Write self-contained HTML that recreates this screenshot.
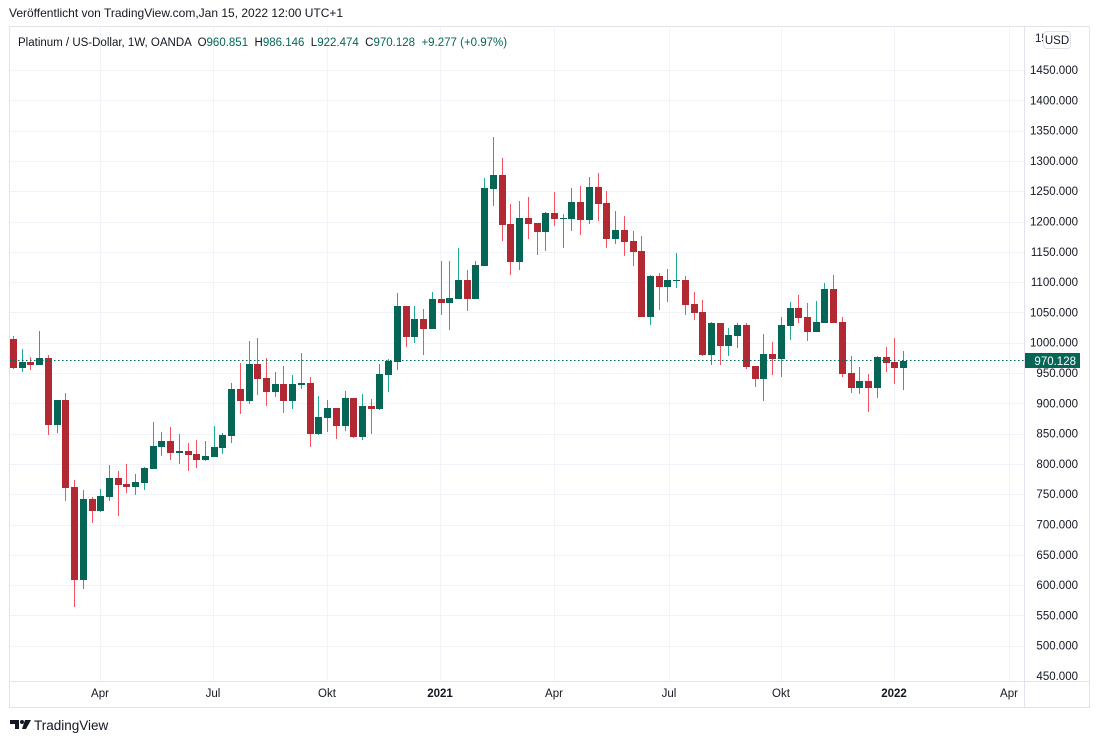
<!DOCTYPE html>
<html><head><meta charset="utf-8"><style>
body{margin:0;background:#fff;width:1100px;height:743px;overflow:hidden;font-family:"Liberation Sans",sans-serif}
svg{position:absolute;left:0;top:0}
text{white-space:pre}
</style></head><body>
<svg id="s" width="1100" height="743" xmlns="http://www.w3.org/2000/svg" font-family="Liberation Sans, sans-serif">
<rect x="9.5" y="26.5" width="1080" height="681" fill="#fff" stroke="#e0e3eb"/>
<g id="grid" stroke="#f0f3fa" stroke-width="1"></g>
<line x1="1024.5" y1="27" x2="1024.5" y2="707" stroke="#e0e3eb"/>
<line x1="10" y1="681.5" x2="1089" y2="681.5" stroke="#e0e3eb"/>
<g id="c"></g>
<line x1="10" y1="360.5" x2="1024" y2="360.5" stroke="#056656" stroke-dasharray="1.5,2.5"/>
<g id="ax" font-size="11.5" fill="#131722"></g>
<rect x="1025" y="353" width="55" height="15" fill="#056656"/>
<text x="1076" y="365" font-size="11.5" fill="#fff" text-anchor="end">970.128</text>
<rect x="1043.5" y="31.5" width="27" height="17" rx="3" fill="#fff" stroke="#e0e3eb"/>
<text x="1057" y="44" font-size="11.5" fill="#131722" text-anchor="middle">USD</text>
<text x="9" y="17" font-size="12" fill="#131722">Veröffentlicht von TradingView.com,Jan 15, 2022 12:00 UTC+1</text>
<text x="18" y="46" font-size="11.5" fill="#131722" xml:space="preserve">Platinum / US-Dollar, 1W, OANDA  O<tspan fill="#056656">960.851</tspan>  H<tspan fill="#056656">986.146</tspan>  L<tspan fill="#056656">922.474</tspan>  C<tspan fill="#056656">970.128</tspan>  <tspan fill="#056656">+9.277 (+0.97%)</tspan></text>
<g transform="translate(10,718)" fill="#131722"><path d="M0 2h9v9h-4v-5h-5z"/><circle cx="12" cy="4" r="2"/><path d="M15 2h6l-5 9h-4z"/></g>
<text x="34" y="730" font-size="13.5" fill="#131722">TradingView</text>
</svg>
<script>
var NS="http://www.w3.org/2000/svg";
function el(p,t,a,txt){var e=document.createElementNS(NS,t);for(var k in a)e.setAttribute(k,a[k]);if(txt)e.textContent=txt;p.appendChild(e);return e;}
var g=document.getElementById('grid'),ax=document.getElementById('ax'),c=document.getElementById('c');
for(var p=1500;p>=450;p-=50){var y=70+(1450-p)*0.606;if(p<1500&&p>450)el(g,'line',{x1:10,x2:1024,y1:Math.round(y)+.5,y2:Math.round(y)+.5});
 if(p<1500) el(ax,'text',{x:1078,y:y+4,'text-anchor':'end'},p.toFixed(3));}
el(ax,'text',{x:1035,y:42},'15');
var xs=[[100,'Apr'],[213,'Jul'],[327,'Okt'],[440,'2021',1],[554,'Apr'],[669,'Jul'],[781,'Okt'],[894,'2022',1],[1009,'Apr']];
xs.forEach(function(a){if(a[0]<1024)el(g,'line',{x1:a[0]+.5,x2:a[0]+.5,y1:27,y2:681});var t=el(ax,'text',{x:a[0],y:697,'text-anchor':'middle'},a[1]);if(a[2])t.setAttribute('font-weight','bold');});
var D=[[339,368,336,369,'r'],[362,368,349,372,'g'],[362,365,357,370,'r'],[358,365,331,365,'g'],[358,425,355,435,'r'],[400,425,400,433,'g'],[400,488,393,501,'r'],[487,580,480,607,'r'],[499,580,490,589,'g'],[499,511,497,523,'r'],[496,511,489,512,'g'],[478,497,465,501,'g'],[478,485,471,516,'r'],[484,487,464,493,'r'],[482,487,474,495,'g'],[468,483,467,490,'g'],[446,469,422,469,'g'],[441,447,432,456,'g'],[441,453,427,460,'r'],[451,453,434,464,'g'],[451,455,443,471,'r'],[454,460,440,468,'r'],[456,460,441,461,'g'],[447,457,426,457,'g'],[435,448,433,454,'g'],[389,436,383,443,'g'],[389,401,363,414,'r'],[364,401,341,404,'g'],[364,379,338,395,'r'],[378,392,358,406,'r'],[384,392,372,397,'g'],[384,401,366,413,'r'],[384,401,375,409,'g'],[383,385,353,389,'g'],[383,434,377,447,'r'],[417,434,396,435,'g'],[408,418,400,432,'g'],[408,426,408,439,'r'],[398,426,391,431,'g'],[398,437,398,438,'r'],[406,437,394,440,'g'],[406,409,399,434,'r'],[374,409,364,410,'g'],[361,375,359,392,'g'],[306,362,293,370,'g'],[306,337,306,347,'r'],[319,337,306,343,'g'],[319,329,309,355,'r'],[299,329,292,329,'g'],[299,303,261,315,'r'],[298,303,261,330,'g'],[280,299,248,299,'g'],[280,299,270,311,'r'],[265,299,261,299,'g'],[188,266,178,266,'g'],[175,189,137,206,'g'],[175,225,158,241,'r'],[224,262,204,275,'r'],[218,262,201,270,'g'],[218,224,197,239,'r'],[223,232,223,255,'r'],[213,232,212,251,'g'],[213,219,192,226,'r'],[218,219,214,248,'g'],[202,219,188,231,'g'],[202,220,186,235,'r'],[187,220,177,224,'g'],[187,204,173,221,'r'],[203,239,191,248,'r'],[230,239,211,244,'g'],[230,242,216,256,'r'],[241,252,231,266,'r'],[251,317,236,317,'r'],[276,317,275,325,'g'],[276,287,273,310,'r'],[280,287,269,302,'g'],[280,281,253,288,'g'],[280,305,276,315,'r'],[304,313,292,320,'r'],[312,355,300,356,'r'],[323,355,322,365,'g'],[323,346,323,365,'r'],[335,346,328,356,'g'],[325,336,323,348,'g'],[325,367,323,369,'r'],[366,379,366,387,'r'],[354,379,334,401,'g'],[354,359,342,375,'r'],[325,359,317,377,'g'],[308,326,302,340,'g'],[308,318,295,323,'r'],[317,332,303,341,'r'],[322,332,301,332,'g'],[289,323,283,323,'g'],[289,323,275,323,'r'],[322,374,317,377,'r'],[373,388,356,393,'r'],[381,388,367,394,'g'],[381,388,374,412,'r'],[357,388,356,398,'g'],[357,363,347,372,'r'],[362,368,338,384,'r'],[361,368,351,390,'g']];
var sp=890/(D.length-1);
D.forEach(function(d,i){var x=Math.round(13+i*sp)+.5,gr=d[4]=='g';
 el(c,'line',{x1:x,x2:x,y1:d[2],y2:d[3],stroke:gr?'#22ab94':'#f7525f','stroke-width':1});
 el(c,'rect',{x:x-3.5,y:d[0],width:7,height:Math.max(1,d[1]-d[0]),fill:gr?'#056656':'#b22833'});});
</script>
</body></html>
